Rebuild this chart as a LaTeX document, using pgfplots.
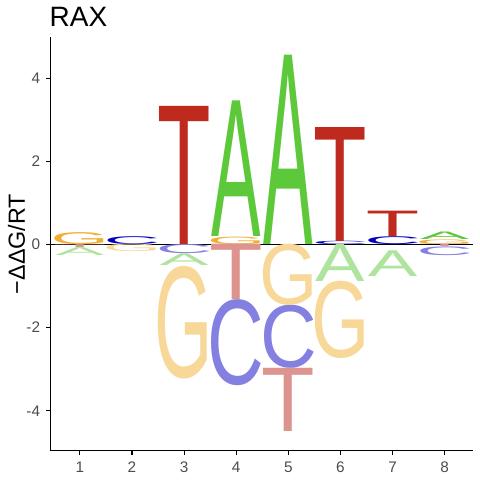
\documentclass[border=0pt]{standalone}
\usepackage{fontspec}
\setmainfont{Liberation Sans}
\usepackage{graphicx}
\usepackage{pgfplots}
\pgfplotsset{compat=1.18}
\usepackage{pgfplotstable}
\definecolor{Au}{HTML}{5CC83A}
\definecolor{Cu}{HTML}{0000C0}
\definecolor{Gu}{HTML}{F0AE32}
\definecolor{Tu}{HTML}{BE2A1E}
\definecolor{Ad}{HTML}{AEE49D}
\definecolor{Cd}{HTML}{8480E2}
\definecolor{Gd}{HTML}{F8D898}
\definecolor{Td}{HTML}{DE948E}
\definecolor{tickgray}{HTML}{4D4D4D}
\newdimen\yu \yu=31.19pt
% above zero: x, bottom, height
\pgfplotstableread{
x b h
4 0.18 3.26
5 0 4.55
8 0.11 0.18
}\tAu
\pgfplotstableread{
x b h
2 0 0.19
6 0 0.08
7 0 0.19
}\tCu
\pgfplotstableread{
x b h
1 0 0.29
4 0 0.18
8 0 0.11
}\tGu
\pgfplotstableread{
x b h
3 0 3.32
6 0.08 2.74
7 0.19 0.61
}\tTu
% below zero
\pgfplotstableread{
x b h
1 -0.26 0.19
3 -0.50 0.28
6 -0.89 0.89
7 -0.78 0.62
}\tAd
\pgfplotstableread{
x b h
3 -0.22 0.22
4 -3.40 2.07
5 -2.99 1.52
8 -0.27 0.21
}\tCd
\pgfplotstableread{
x b h
2 -0.18 0.18
3 -3.23 2.71
5 -1.47 1.47
6 -2.75 1.86
}\tGd
\pgfplotstableread{
x b h
1 -0.07 0.07
4 -1.33 1.33
5 -4.51 1.52
8 -0.06 0.06
}\tTd
\pgfplotsset{
  logo/.style={draw=none, mark=none,
    visualization depends on={\thisrow{h} \as \hh},
    every node near coord/.append style={anchor=center, inner sep=0pt, outer sep=0pt},
  },
}
\begin{document}
\begin{tikzpicture}
\begin{axis}[
  at={(0,0)}, anchor=south west,
  scale only axis, width=316.7pt, height=310.05pt,
  xmin=0.44, xmax=8.54, ymin=-4.96, ymax=4.98,
  axis x line*=bottom, axis y line*=left,
  axis line style={line width=1.1pt, -},
  tick align=outside, major tick length=3.4pt,
  tick style={black, line width=0.8pt},
  xtick={1,2,3,4,5,6,7,8}, xticklabels={1,2,3,4,5,6,7,8},
  ytick={-4,-2,0,2,4}, yticklabels={-4,-2,0,2,4},
  ticklabel style={font=\fontsize{11.5}{13}\selectfont, text=tickgray},
  xticklabel style={anchor=north, inner sep=0pt, yshift=-5pt},
  yticklabel style={anchor=east, inner sep=0pt, xshift=-4.3pt},
  ylabel={−ΔΔG/RT},
  ylabel style={at={(axis description cs:-0.0808,0.5)}, anchor=center, rotate=0, font=\fontsize{17.5}{20}\selectfont},
  title={RAX},
  every axis title/.style={at={(axis description cs:0,1)}, anchor=base west, inner sep=0pt, yshift=8pt, xshift=-0.9pt, font=\fontsize{21}{25}\selectfont},
]
\addplot[logo, nodes near coords={\resizebox*{37.1pt}{\hh\yu}{\color{Au}A}}] table[x=x, y expr=\thisrow{b}+0.5*\thisrow{h}] {\tAu};
\addplot[logo, nodes near coords={\resizebox*{42.5pt}{\hh\yu}{\color{Cu}C}}] table[x=x, y expr=\thisrow{b}+0.5*\thisrow{h}] {\tCu};
\addplot[logo, nodes near coords={\resizebox*{43.7pt}{\hh\yu}{\color{Gu}G}}] table[x=x, y expr=\thisrow{b}+0.5*\thisrow{h}] {\tGu};
\addplot[logo, nodes near coords={\resizebox*{40.1pt}{\hh\yu}{\color{Tu}T}}] table[x=x, y expr=\thisrow{b}+0.5*\thisrow{h}] {\tTu};
\addplot[logo, nodes near coords={\resizebox*{37.1pt}{\hh\yu}{\color{Ad}A}}] table[x=x, y expr=\thisrow{b}+0.5*\thisrow{h}] {\tAd};
\addplot[logo, nodes near coords={\resizebox*{42.5pt}{\hh\yu}{\color{Cd}C}}] table[x=x, y expr=\thisrow{b}+0.5*\thisrow{h}] {\tCd};
\addplot[logo, nodes near coords={\resizebox*{43.7pt}{\hh\yu}{\color{Gd}G}}] table[x=x, y expr=\thisrow{b}+0.5*\thisrow{h}] {\tGd};
\addplot[logo, nodes near coords={\resizebox*{40.1pt}{\hh\yu}{\color{Td}T}}] table[x=x, y expr=\thisrow{b}+0.5*\thisrow{h}] {\tTd};
\addplot[black, line width=0.8pt] coordinates {(0.44,0) (8.54,0)};
\end{axis}
\pgfresetboundingbox
\path (-38pt,-22pt) rectangle (322pt,338.05pt);
\end{tikzpicture}
\end{document}
